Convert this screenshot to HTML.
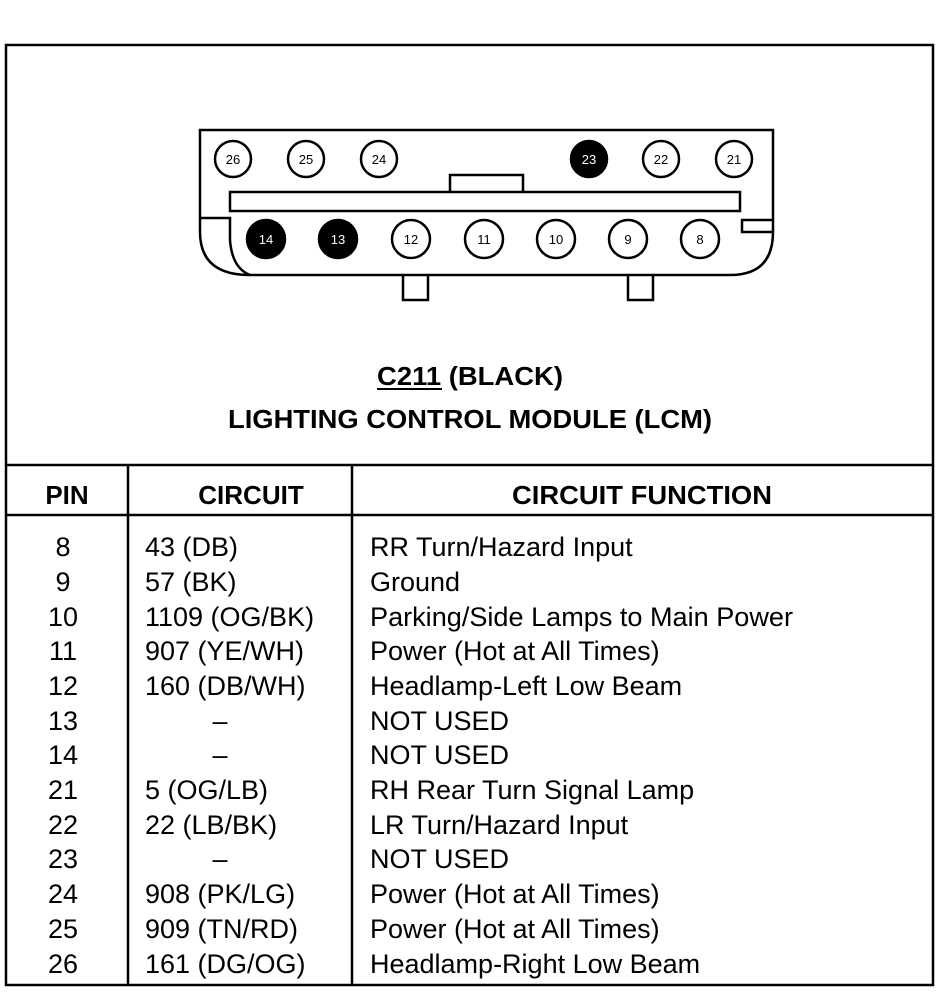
<!DOCTYPE html>
<html><head><meta charset="utf-8"><style>
html,body{margin:0;padding:0;background:#fff;}
svg{display:block;}
text{font-family:"Liberation Sans",Arial,sans-serif;fill:#000;}
</style></head><body>
<svg width="950" height="1008" viewBox="0 0 950 1008" xmlns="http://www.w3.org/2000/svg">
<rect x="6" y="45" width="927" height="940" fill="none" stroke="#000" stroke-width="2.5"/>
<g fill="none" stroke="#000" stroke-width="2.5">
<path d="M200,130 H773 V232 Q773,275 730,275 H250 Q200,275 200,232 Z" fill="#fff"/>
<path d="M200,218 H230 V240 Q232,268 250,275"/>
<path d="M773,220 H742 V232 H773"/>
<rect x="230" y="192" width="510" height="19"/>
<path d="M450,192 V175 H523 V192"/>
<path d="M403,275 V300 H428 V275"/>
<path d="M628,275 V300 H653 V275"/>
</g>
<g stroke="#000" stroke-width="2.5" font-size="13" text-anchor="middle">
<circle cx="233" cy="159" r="18" fill="#fff"/><text x="233" y="164" stroke="none">26</text>
<circle cx="306" cy="159" r="18" fill="#fff"/><text x="306" y="164" stroke="none">25</text>
<circle cx="379" cy="159" r="18" fill="#fff"/><text x="379" y="164" stroke="none">24</text>
<circle cx="589" cy="159" r="18" fill="#000"/><text x="589" y="164" stroke="none" style="fill:#fff">23</text>
<circle cx="661" cy="159" r="18" fill="#fff"/><text x="661" y="164" stroke="none">22</text>
<circle cx="734" cy="159" r="18" fill="#fff"/><text x="734" y="164" stroke="none">21</text>
<circle cx="266" cy="239" r="19" fill="#000"/><text x="266" y="244" stroke="none" style="fill:#fff">14</text>
<circle cx="338" cy="239" r="19" fill="#000"/><text x="338" y="244" stroke="none" style="fill:#fff">13</text>
<circle cx="411" cy="239" r="19" fill="#fff"/><text x="411" y="244" stroke="none">12</text>
<circle cx="484" cy="239" r="19" fill="#fff"/><text x="484" y="244" stroke="none">11</text>
<circle cx="556" cy="239" r="19" fill="#fff"/><text x="556" y="244" stroke="none">10</text>
<circle cx="628" cy="239" r="19" fill="#fff"/><text x="628" y="244" stroke="none">9</text>
<circle cx="700" cy="239" r="19" fill="#fff"/><text x="700" y="244" stroke="none">8</text>
</g>
<text x="377" y="385" font-size="26" font-weight="bold" textLength="186" lengthAdjust="spacingAndGlyphs">C211 (BLACK)</text>
<line x1="377" y1="389" x2="442" y2="389" stroke="#000" stroke-width="2"/>
<text x="228" y="428" font-size="26" font-weight="bold" textLength="484" lengthAdjust="spacingAndGlyphs">LIGHTING CONTROL MODULE (LCM)</text>
<g stroke="#000" stroke-width="2.5">
<line x1="6" y1="465" x2="933" y2="465"/>
<line x1="6" y1="515" x2="933" y2="515"/>
<line x1="128" y1="465" x2="128" y2="985"/>
<line x1="352" y1="465" x2="352" y2="985"/>
</g>
<g font-size="26" font-weight="bold" text-anchor="middle">
<text x="67" y="504">PIN</text>
<text x="251" y="504">CIRCUIT</text>
<text x="642" y="504" textLength="260" lengthAdjust="spacingAndGlyphs">CIRCUIT FUNCTION</text>
</g>
<g font-size="27">
<g text-anchor="middle">
<text x="63" y="556">8</text>
<text x="63" y="591">9</text>
<text x="63" y="626">10</text>
<text x="63" y="660">11</text>
<text x="63" y="695">12</text>
<text x="63" y="730">13</text>
<text x="63" y="764">14</text>
<text x="63" y="799">21</text>
<text x="63" y="834">22</text>
<text x="63" y="868">23</text>
<text x="63" y="903">24</text>
<text x="63" y="938">25</text>
<text x="63" y="973">26</text>
<text x="220" y="730">–</text>
<text x="220" y="764">–</text>
<text x="220" y="868">–</text>
</g>
<text x="145" y="556">43 (DB)</text>
<text x="145" y="591">57 (BK)</text>
<text x="145" y="626">1109 (OG/BK)</text>
<text x="145" y="660">907 (YE/WH)</text>
<text x="145" y="695">160 (DB/WH)</text>
<text x="145" y="799">5 (OG/LB)</text>
<text x="145" y="834">22 (LB/BK)</text>
<text x="145" y="903">908 (PK/LG)</text>
<text x="145" y="938">909 (TN/RD)</text>
<text x="145" y="973">161 (DG/OG)</text>
<text x="370" y="556">RR Turn/Hazard Input</text>
<text x="370" y="591">Ground</text>
<text x="370" y="626" textLength="423" lengthAdjust="spacingAndGlyphs">Parking/Side Lamps to Main Power</text>
<text x="370" y="660">Power (Hot at All Times)</text>
<text x="370" y="695">Headlamp-Left Low Beam</text>
<text x="370" y="730">NOT USED</text>
<text x="370" y="764">NOT USED</text>
<text x="370" y="799">RH Rear Turn Signal Lamp</text>
<text x="370" y="834">LR Turn/Hazard Input</text>
<text x="370" y="868">NOT USED</text>
<text x="370" y="903">Power (Hot at All Times)</text>
<text x="370" y="938">Power (Hot at All Times)</text>
<text x="370" y="973">Headlamp-Right Low Beam</text>
</g>
</svg>
</body></html>
